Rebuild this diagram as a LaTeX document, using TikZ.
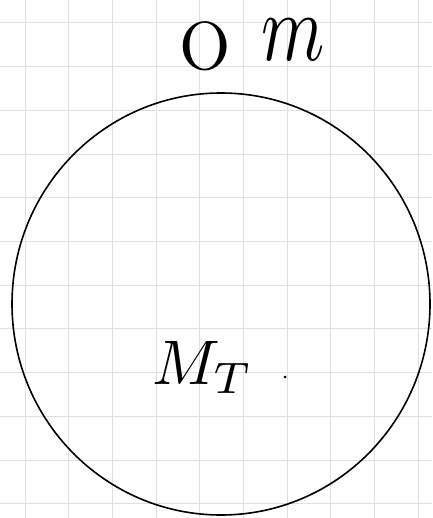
\documentclass[tikz,border=0pt]{standalone}
\usepackage{tikz}
\usetikzlibrary{shapes.geometric}
\begin{document}
\begin{tikzpicture}[x=1pt,y=-1pt,
  gridline/.style={draw=black!12, line width=1pt},
  ink/.style={draw=black, line width=1.6pt},
  hand/.style={inner sep=0pt}]
\useasboundingbox (0,0) rectangle (432,518);
\fill[white] (0,0) rectangle (432,518);
% grid
\foreach \k in {0,...,9} {
  \draw[gridline] ({25+43.7*\k},0) -- ({25+43.7*\k},518);
}
\foreach \k in {0,...,11} {
  \draw[gridline] (0,{23+43.7*\k}) -- (432,{23+43.7*\k});
}
% big circle
\node[ink, ellipse, minimum width=418pt, minimum height=422pt, inner sep=0pt] (earth) at (221,304) {};
% top label
\node[hand] (o) at (205,46) {\scalebox{6.6}[6.8]{O}};
\node[hand] (m) at (293,40) {\scalebox{7.2}[9.6]{$m$}};
% inner label
\node[hand, anchor=base west] (mt) at (152,384) {\scalebox{6.3}{$M_T$}};
\node[circle, fill=black, inner sep=0pt, minimum size=3pt] (dot) at (285,377) {};
\end{tikzpicture}
\end{document}
